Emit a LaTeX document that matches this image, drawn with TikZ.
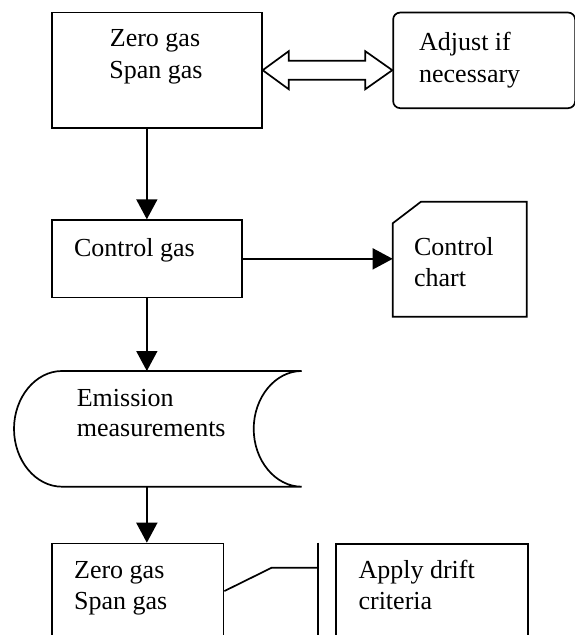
\documentclass[tikz,border=0pt]{standalone}
\usepackage{fontspec}
\setmainfont{Liberation Serif}
\usetikzlibrary{arrows.meta,calc}
\begin{document}
\begin{tikzpicture}[x=1pt,y=-1pt, line width=1.7pt, line join=miter,
  box/.style={draw, rectangle, anchor=north west, inner sep=0pt, line width=1.7pt},
  ghost/.style={rectangle, anchor=north west, inner sep=0pt, draw=none},
  txt/.style={inner sep=0pt, font=\fontsize{26}{31}\selectfont},
  arr/.style={-{Triangle[length=20pt,width=21pt]}}]
\clip (0,0) rectangle (575,635);
% top box
\node[box, minimum width=210pt, minimum height=115.3pt] (b1) at (51,11.7) {};
\node[txt, anchor=base] (t1a) at (155,46) {Zero gas};
\node[txt, anchor=base] (t1b) at (156,78) {Span gas};
% adjust box
\node[box, rounded corners=7pt, minimum width=182pt, minimum height=95.6pt] (adj) at (392.3,11.7) {};
\node[txt, anchor=base west] (t2a) at (418.3,50) {Adjust if};
\node[txt, anchor=base west] (t2b) at (418.3,82) {necessary};
% hollow double arrow
\coordinate (L) at (b1.east);
\coordinate (R) at (b1.east -| adj.west);
\draw (L) -- ($(L)+(26,-19)$) -- ($(L)+(26,-9.5)$) -- ($(R)+(-27,-9.5)$) -- ($(R)+(-27,-19)$) -- (R)
  -- ($(R)+(-27,19)$) -- ($(R)+(-27,9.5)$) -- ($(L)+(26,9.5)$) -- ($(L)+(26,19)$) -- cycle;
% control gas
\node[box, minimum width=190pt, minimum height=77.4pt] (cg) at (51,219.3) {};
\node[txt, anchor=base west] (t3) at (73.3,256.7) {Control gas};
% control chart
\node[ghost, minimum width=132.3pt, minimum height=113.3pt] (cc) at (392.7,201.7) {};
\draw ($(cc.north west)+(28.3,0)$) -- (cc.north east) -- (cc.south east) -- (cc.south west) -- ($(cc.north west)+(0,21.6)$) -- cycle;
\node[txt, anchor=base west] (t4a) at (413.3,255) {Control};
\node[txt, anchor=base west] (t4b) at (413.3,286) {chart};
% emission measurements (stored data)
\node[ghost, minimum width=238pt, minimum height=114pt] (em) at (62,371) {};
\draw (em.north west) -- (em.north east)
  .. controls ($(em.north east)+(-26.5,0)$) and ($(em.east)+(-48,-31.5)$) .. ($(em.east)+(-48,0)$)
  .. controls ($(em.east)+(-48,31.5)$) and ($(em.south east)+(-26.5,0)$) .. (em.south east)
  -- (em.south west)
  .. controls ($(em.south west)+(-26.5,0)$) and ($(em.west)+(-48,31.5)$) .. ($(em.west)+(-48,0)$)
  .. controls ($(em.west)+(-48,-31.5)$) and ($(em.north west)+(-26.5,0)$) .. (em.north west) -- cycle;
\node[txt, anchor=base west] (t5a) at (76,406) {Emission};
\node[txt, anchor=base west] (t5b) at (76,436.7) {measurements};
% bottom boxes
\node[box, minimum width=171.7pt, minimum height=95pt] (b2) at (51,542.7) {};
\node[txt, anchor=base west] (t6a) at (73.3,578.3) {Zero gas};
\node[txt, anchor=base west] (t6b) at (73.3,609) {Span gas};
\node[box, minimum width=192.3pt, minimum height=100pt] (ad) at (335,543.3) {};
\node[txt, anchor=base west] (t7a) at (357.7,578.3) {Apply drift};
\node[txt, anchor=base west] (t7b) at (357.7,609.3) {criteria};
% connectors
\draw[arr] (cg.north |- b1.south) -- (cg.north);
\draw[arr] (cg.east) -- (cg.east -| cc.west);
\draw[arr] (cg.south) -- (cg.south |- em.north);
\draw[arr] (cg.south |- em.south) -- (cg.south |- b2.north);
% annotation
\coordinate (knee) at (271.7,567.7);
\coordinate (brk) at (318.3,567.7);
\draw (b2.east) -- (knee) -- (brk);
\draw (brk |- b2.north) -- ($(brk)+(0,80)$);
\end{tikzpicture}
\end{document}
